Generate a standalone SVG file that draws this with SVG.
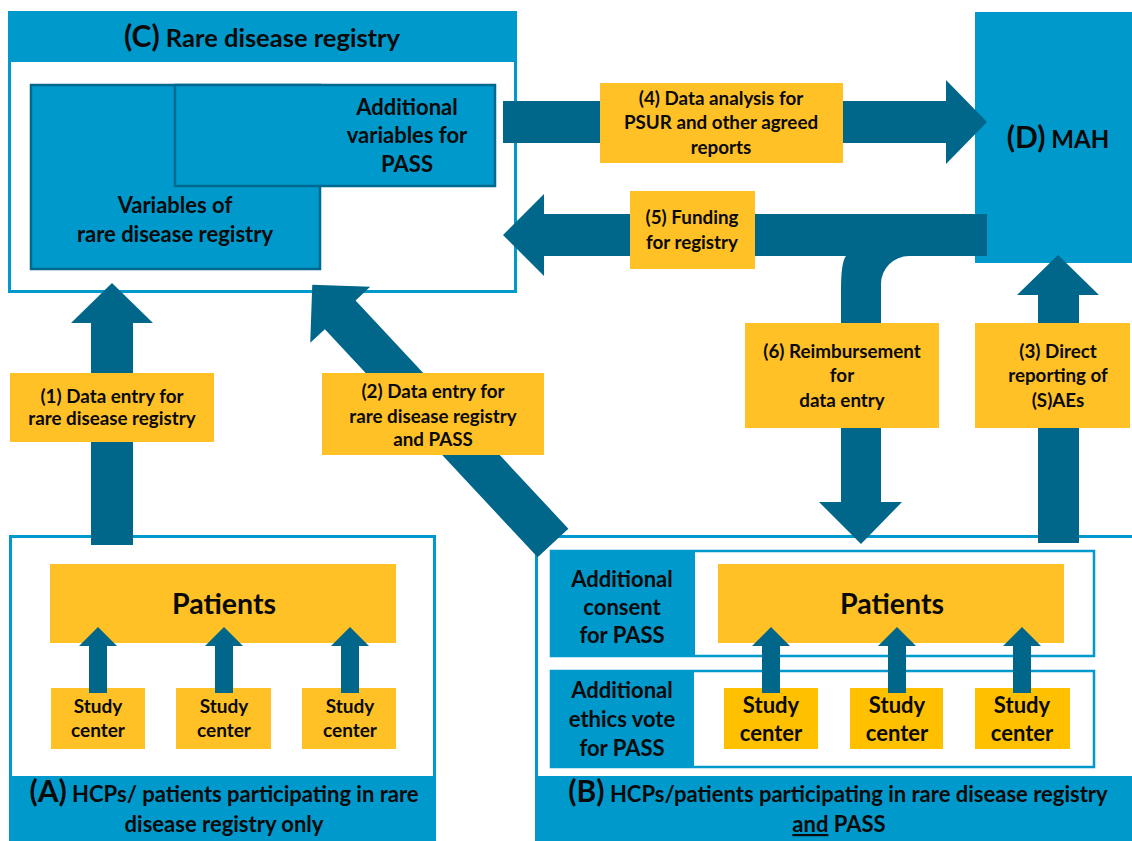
<svg xmlns="http://www.w3.org/2000/svg" width="1132" height="841" viewBox="0 0 1132 841">
<style>
text{font-family:Lato,"Open Sans","Liberation Sans",sans-serif;font-weight:bold;fill:#0a0a0a;text-anchor:middle}
.blue{fill:#0099CC}
.frame{fill:#fff;stroke:#0099CC;stroke-width:3}
.var{fill:#0099CC;stroke:#00698F;stroke-width:2.5}
.lab{fill:#FFC125}
.arr{fill:#00678A}
.t17{font-size:18.8px}
.t19{font-size:19px}
.t22{font-size:22px}
.big{font-size:30px}
</style>
<g id="registry">
<rect class="frame" x="9.5" y="12.5" width="506" height="279"/>
<rect class="blue" x="8" y="11" width="509" height="51"/>
<text x="262" y="47" style="font-size:25.5px"><tspan class="big">(C)</tspan> Rare disease registry</text>
<rect class="var" x="31" y="85" width="289" height="184"/>
<rect class="var" x="175" y="85" width="320" height="101"/>
<text class="t22" x="407" y="115">Additional</text>
<text class="t22" x="407" y="143">variables for</text>
<text class="t22" x="407" y="172">PASS</text>
<text class="t22" x="175" y="213">Variables of</text>
<text class="t22" x="175" y="242">rare disease registry</text>
</g>
<g id="mah">
<rect class="blue" x="975" y="12" width="157" height="251"/>
<text x="1058" y="148" style="font-size:24px"><tspan class="big">(D)</tspan> MAH</text>
</g>
<g id="groupA">
<rect class="frame" x="10.5" y="536.5" width="424" height="306"/>
<rect class="blue" x="9" y="776" width="427" height="65"/>
<rect class="lab" x="50" y="564" width="346" height="79"/>
<text x="224" y="614" style="font-size:28.5px">Patients</text>
<rect class="lab" x="51" y="688" width="94" height="61"/>
<rect class="lab" x="176" y="688" width="95" height="61"/>
<rect class="lab" x="302" y="688" width="94" height="61"/>
<text class="t19" x="98" y="713">Study</text><text class="t19" x="98" y="737">center</text>
<text class="t19" x="224" y="713">Study</text><text class="t19" x="224" y="737">center</text>
<text class="t19" x="350" y="713">Study</text><text class="t19" x="350" y="737">center</text>
<text class="t22" x="224" y="802"><tspan class="big">(A)</tspan> HCPs/ patients participating in rare</text>
<text class="t22" x="224" y="832">disease registry only</text>
</g>
<g id="groupB">
<rect class="frame" x="536.5" y="536.5" width="600" height="306"/>
<rect class="blue" x="535" y="776" width="597" height="65"/>
<rect class="frame" x="551" y="551" width="543" height="105" style="stroke-width:2.5"/>
<rect class="blue" x="550" y="550" width="145" height="107"/>
<rect class="frame" x="551" y="671" width="543" height="96" style="stroke-width:2.5"/>
<rect class="blue" x="550" y="670" width="144" height="98"/>
<text class="t22" x="622" y="587">Additional</text>
<text class="t22" x="622" y="615">consent</text>
<text class="t22" x="622" y="643">for PASS</text>
<text class="t22" x="622" y="698">Additional</text>
<text class="t22" x="622" y="727">ethics vote</text>
<text class="t22" x="622" y="756">for PASS</text>
<rect class="lab" x="718" y="564" width="346" height="79"/>
<text x="892" y="614" style="font-size:28.5px">Patients</text>
<rect class="lab" x="724" y="688" width="94" height="61" style="fill:#FFC000"/>
<rect class="lab" x="850" y="688" width="93" height="61" style="fill:#FFC000"/>
<rect class="lab" x="975" y="688" width="95" height="61" style="fill:#FFC000"/>
<text class="t22" x="771" y="713">Study</text><text class="t22" x="771" y="741">center</text>
<text class="t22" x="897" y="713">Study</text><text class="t22" x="897" y="741">center</text>
<text class="t22" x="1022" y="713">Study</text><text class="t22" x="1022" y="741">center</text>
<text class="t22" x="838" y="802"><tspan class="big">(B)</tspan> HCPs/patients participating in rare disease registry</text>
<text class="t22" x="839" y="832"><tspan text-decoration="underline">and</tspan> PASS</text>
</g>
<g id="connectors">
<polygon class="arr" points="91,545 91,323 71,323 112,283 153,323 133,323 133,545"/>
<polygon class="arr" transform="translate(553,543) rotate(-43)" points="-21,0 -21,-312 -41,-312 0,-353 41,-312 21,-312 21,0"/>
<polygon class="arr" points="1038,543 1038,295 1017,295 1058,255 1099,295 1079,295 1079,543"/>
<polygon class="arr" points="503,101 946,101 946,80 987,122 946,164 946,143 503,143"/>
<path class="arr" d="M987,214 L544,214 L544,194 L503,235 L544,276 L544,256 L846,256 Q841,262 841,290 L841,502 L819,502 L861,544 L902,502 L881,502 L881,284 A28,28 0 0 1 909,256 L987,256 Z"/>
<g id="small-arrows">
<polygon class="arr" points="89,693 89,646 79,646 98,627 117,646 107,646 107,693"/>
<polygon class="arr" points="215,693 215,646 205,646 224,627 243,646 233,646 233,693"/>
<polygon class="arr" points="341,693 341,646 331,646 350,627 369,646 359,646 359,693"/>
<polygon class="arr" points="762,693 762,646 752,646 771,627 790,646 780,646 780,693"/>
<polygon class="arr" points="888,693 888,646 878,646 897,627 916,646 906,646 906,693"/>
<polygon class="arr" points="1013,693 1013,646 1003,646 1022,627 1041,646 1031,646 1031,693"/>
</g>
</g>
<g id="label1">
<rect class="lab" x="10" y="373" width="204" height="69"/>
<text class="t17" x="112" y="403">(1) Data entry for</text>
<text class="t17" x="112" y="425">rare disease registry</text>
</g>
<g id="label2">
<rect class="lab" x="322" y="373" width="222" height="82"/>
<text class="t17" x="433" y="398">(2) Data entry for</text>
<text class="t17" x="433" y="423">rare disease registry</text>
<text class="t17" x="433" y="446">and PASS</text>
</g>
<g id="label4">
<rect class="lab" x="600" y="83" width="243" height="80"/>
<text class="t17" x="721" y="105">(4) Data analysis for</text>
<text class="t17" x="721" y="129">PSUR and other agreed</text>
<text class="t17" x="721" y="154">reports</text>
</g>
<g id="label5">
<rect class="lab" x="630" y="191" width="125" height="78"/>
<text class="t17" x="692" y="224">(5) Funding</text>
<text class="t17" x="692" y="249">for registry</text>
</g>
<g id="label6">
<rect class="lab" x="745" y="323" width="194" height="105"/>
<text class="t17" x="842" y="358">(6) Reimbursement</text>
<text class="t17" x="842" y="382">for</text>
<text class="t17" x="842" y="407">data entry</text>
</g>
<g id="label3">
<rect class="lab" x="975" y="323" width="155" height="105"/>
<text class="t17" x="1058" y="358">(3) Direct</text>
<text class="t17" x="1058" y="382">reporting of</text>
<text class="t17" x="1058" y="407">(S)AEs</text>
</g>
</svg>
